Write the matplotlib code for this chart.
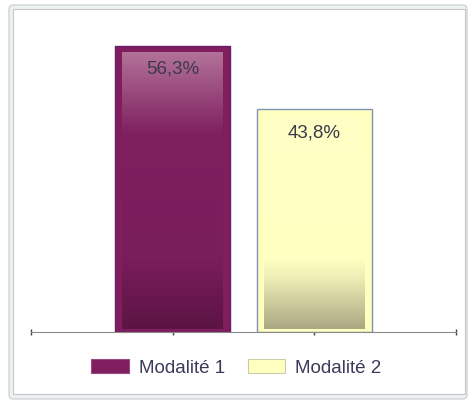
import numpy as np
import matplotlib
matplotlib.use("Agg")
import matplotlib.pyplot as plt
from matplotlib.patches import FancyBboxPatch, Rectangle
from matplotlib.colors import LinearSegmentedColormap

categories = ["Modalité 1", "Modalité 2"]
values = [56.3, 43.8]
labels = ["56,3%", "43,8%"]
outer_colors = ["#801D5E", "#FFFFC0"]
edge_colors = ["#6A1E66", "#8092B4"]
grad_stops = [
    [(0.0, "#5C1444"), (0.25, "#7A1D5B"), (0.7, "#7E1F5E"), (1.0, "#B27299")],
    [(0.0, "#A9A882"), (0.25, "#F0F0B8"), (0.33, "#FFFFC2"), (1.0, "#FFFFC6")],
]

W, H = 468, 403
fig = plt.figure(figsize=(W / 100, H / 100), dpi=100)
fig.patch.set_facecolor("white")

# outer frame
frame = FancyBboxPatch((9 / W, 4 / H), (458 / W), (394 / H),
                       boxstyle="round,pad=0,rounding_size=0.01",
                       transform=fig.transFigure, facecolor="#EEF1F1",
                       edgecolor="#D0D4D4", linewidth=1.0, zorder=-10)
fig.patches.append(frame)
inner = Rectangle((13 / W, 9 / H), 452 / W, 385 / H, transform=fig.transFigure,
                  facecolor="white", edgecolor="#C4C8C8", linewidth=0.8, zorder=-9)
fig.patches.append(inner)

ax = fig.add_axes([31 / W, (H - 332) / H, 425 / W, 305 / H])
ax.set_facecolor("none")
x = np.arange(len(categories))
bars = ax.bar(x, values, width=0.81, color=outer_colors, edgecolor=edge_colors,
              linewidth=1.0, zorder=2)
ax.set_xlim(-1, 2)
ax.set_ylim(0, 60)

fig.canvas.draw()
px_x = (ax.transData.transform((1, 0))[0] - ax.transData.transform((0, 0))[0])
px_y = (ax.transData.transform((0, 1))[1] - ax.transData.transform((0, 0))[1])
ins_x = 7 / px_x
ins_y = 7 / px_y

for b, stops, lab in zip(bars, grad_stops, labels):
    x0, y0 = b.get_x(), b.get_y()
    w, h = b.get_width(), b.get_height()
    cmap = LinearSegmentedColormap.from_list("g", stops)
    grad = np.linspace(0, 1, 256).reshape(-1, 1)
    ax.imshow(grad, cmap=cmap, origin="lower", aspect="auto",
              extent=(x0 + ins_x, x0 + w - ins_x, y0 + ins_y * 0.4, y0 + h - ins_y),
              zorder=3)
    ax.text(x0 + w / 2, y0 + h - ins_y - 8 / px_y, lab, ha="center", va="top",
            fontsize=13.5, color="#3A3A4A", family="Liberation Sans", zorder=4)

ax.set_xlim(-1, 2)
ax.set_ylim(0, 60)
for s in ["top", "right", "left"]:
    ax.spines[s].set_visible(False)
ax.spines["bottom"].set_color("#8A8A8A")
ax.spines["bottom"].set_linewidth(0.8)
ax.set_yticks([])
ax.set_xticks([-1, 0, 1, 2])
ax.set_xticklabels([])
ax.tick_params(axis="x", direction="inout", length=5, width=1, color="#444444")

handles = [Rectangle((0, 0), 1, 1, facecolor=outer_colors[0], edgecolor="#9A4A80", linewidth=0.8),
           Rectangle((0, 0), 1, 1, facecolor=outer_colors[1], edgecolor="#CCCCAA", linewidth=0.8)]
leg = fig.legend(handles, categories, loc="center", bbox_to_anchor=(0.505, (H - 368) / H),
                 ncol=2, frameon=False, handlelength=2.0, handleheight=0.75,
                 handletextpad=0.55, columnspacing=1.2,
                 prop={"family": "Liberation Sans", "size": 13.5})
for t in leg.get_texts():
    t.set_color("#3A3A5A")

fig.savefig("out.png", dpi=100)
